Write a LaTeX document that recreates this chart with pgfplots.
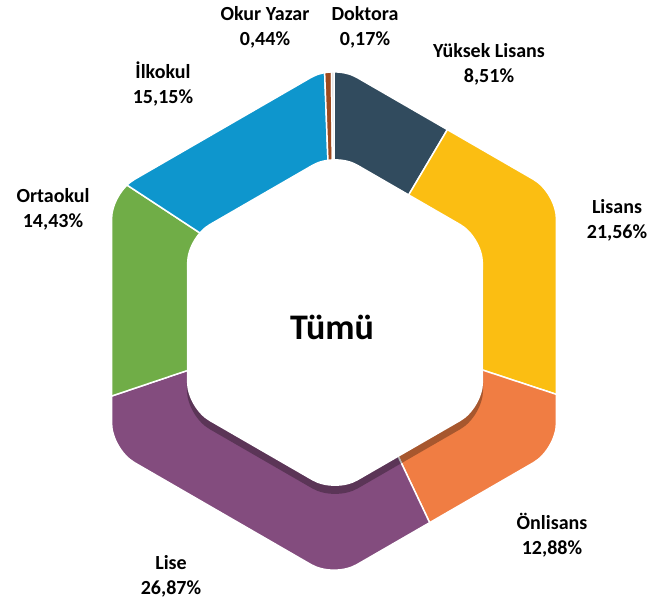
\documentclass[border=0pt]{standalone}
\usepackage{fontspec}
\setmainfont{Carlito}
\usepackage{pgfplots}
\pgfplotsset{compat=1.18}

\definecolor{cYL}{HTML}{314B5E}
\definecolor{cLis}{HTML}{FBBE12}
\definecolor{cOn}{HTML}{F07D43}
\definecolor{cLise}{HTML}{834C7E}
\definecolor{cOrta}{HTML}{70AD47}
\definecolor{cIlk}{HTML}{0E96CD}
\definecolor{cOkur}{HTML}{9E4A1E}
\definecolor{cDok}{HTML}{D9D9D9}

% data (percent)
\def\pYL{8.51}\def\pLis{21.56}\def\pOn{12.88}\def\pLise{26.87}
\def\pOrta{14.43}\def\pIlk{15.15}\def\pOkur{0.44}\def\pDok{0.17}

\pgfmathsetmacro\aA{90}
\pgfmathsetmacro\aB{\aA-3.6*\pYL}
\pgfmathsetmacro\aC{\aB-3.6*\pLis}
\pgfmathsetmacro\aD{\aC-3.6*\pOn}
\pgfmathsetmacro\aE{\aD-3.6*\pLise}
\pgfmathsetmacro\aF{\aE-3.6*\pOrta}
\pgfmathsetmacro\aG{\aF-3.6*\pIlk}
\pgfmathsetmacro\aH{\aG-3.6*\pOkur}
\pgfmathsetmacro\aI{\aH-3.6*\pDok}

\newcommand\slice[3]{%
  \pgfmathsetmacro\wa{#1}\pgfmathsetmacro\wb{#2}%
  \pgfmathsetmacro\wi{\wa+(\wb-\wa)*0.2}%
  \pgfmathsetmacro\wii{\wa+(\wb-\wa)*0.4}%
  \pgfmathsetmacro\wiii{\wa+(\wb-\wa)*0.6}%
  \pgfmathsetmacro\wiv{\wa+(\wb-\wa)*0.8}%
  \edef\tmp{\noexpand\addplot[data cs=polar, fill=#3, draw=white, line width=0.75pt, line join=round]
    coordinates {(0,0) (\wa,280) (\wi,280) (\wii,280) (\wiii,280) (\wiv,280) (\wb,280) (0,0)};}%
  \tmp}

\newcommand\lab{\bfseries\fontsize{10}{12.5}\selectfont}

\begin{document}
\begin{tikzpicture}
\begin{axis}[x=0.5pt, y=0.5pt, xmin=-334, xmax=321, ymin=-287, ymax=321,
  hide axis, clip=false]
\slice{\aA}{\aB}{cYL}
\slice{\aB}{\aC}{cLis}
\slice{\aC}{\aD}{cOn}
\slice{\aD}{\aE}{cLise}
\slice{\aE}{\aF}{cOrta}
\slice{\aF}{\aG}{cIlk}
\slice{\aG}{\aH}{cOkur}
\slice{\aH}{\aI}{cDok}
% mask outside outer hexagon
\fill[white, even odd rule] (axis cs:-334,-287) rectangle (axis cs:321,321)
  [rounded corners=13pt] (axis cs:110.85,192) -- (axis cs:221.7,128) -- (axis cs:221.7,-128)
  -- (axis cs:0,-256) -- (axis cs:-221.7,-128) -- (axis cs:-221.7,128) -- (axis cs:0,256) -- cycle;
% inner shadow
\fill[black, opacity=0.3, rounded corners=13pt] (axis cs:75.05,118.75) -- (axis cs:149.1,76) -- (axis cs:149.1,-95)
  -- (axis cs:1,-180.5) -- (axis cs:-147.1,-95) -- (axis cs:-147.1,76) -- (axis cs:1,161.5) -- cycle;
% inner white hexagon
\fill[white, rounded corners=13pt] (axis cs:75.05,126.75) -- (axis cs:149.1,84) -- (axis cs:149.1,-87)
  -- (axis cs:1,-172.5) -- (axis cs:-147.1,-87) -- (axis cs:-147.1,84) -- (axis cs:1,169.5) -- cycle;
% labels
\node[align=center, font=\lab] at (axis cs:-69,293.5) {Okur Yazar\\0,44\%};
\node[align=center, font=\lab] at (axis cs:31,293.5) {Doktora\\0,17\%};
\node[align=center, font=\lab] at (axis cs:155,257) {Yüksek Lisans\\8,51\%};
\node[align=center, font=\lab] at (axis cs:283,101) {Lisans\\21,56\%};
\node[align=center, font=\lab] at (axis cs:218,-214) {Önlisans\\12,88\%};
\node[align=center, font=\lab] at (axis cs:-163,-255) {Lise\\26,87\%};
\node[align=center, font=\lab] at (axis cs:-281,112) {Ortaokul\\14,43\%};
\node[align=center, font=\lab] at (axis cs:-171,237) {İlkokul\\15,15\%};
\node[font=\bfseries\fontsize{18}{20}\selectfont] at (axis cs:-2,-6) {Tümü};
\end{axis}
\end{tikzpicture}
\end{document}
